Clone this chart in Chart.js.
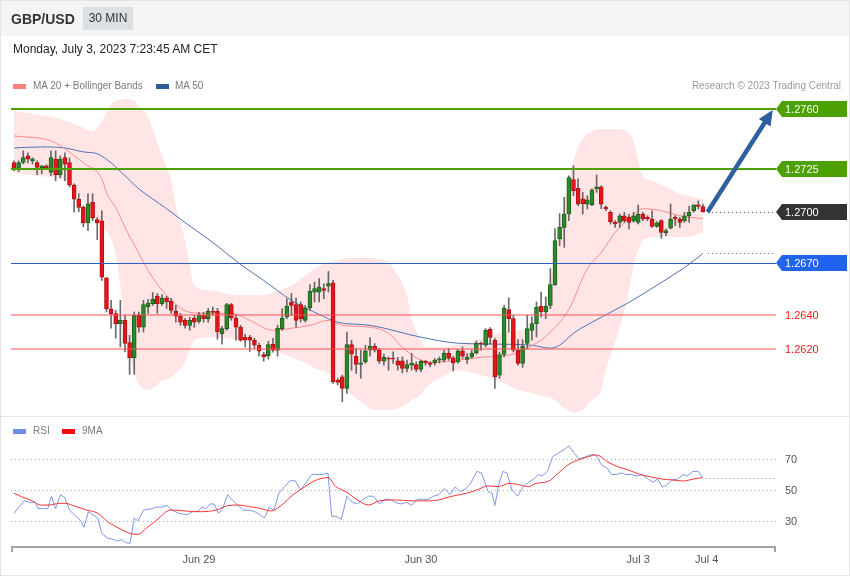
<!DOCTYPE html>
<html><head><meta charset="utf-8">
<script src="https://cdn.jsdelivr.net/npm/chart.js@4.4.1/dist/chart.umd.min.js"></script>
<style>
html,body{margin:0;padding:0;background:#fff;}
body{font-family:"Liberation Sans",Arial,Helvetica,sans-serif;}
#wrap{position:relative;width:850px;height:576px;overflow:hidden;background:#fff;}
.abs{position:absolute;white-space:nowrap;z-index:3;}
.box{position:absolute;box-sizing:border-box;}
#p1{left:0;top:0;width:850px;height:417px;border:1px solid #e4e4e4;z-index:0;}
#p2{left:0;top:416px;width:850px;height:160px;border:1px solid #e4e4e4;z-index:0;}
#hdr{left:1px;top:1px;width:848px;height:35px;background:#f4f4f4;z-index:1;}
#pair{left:11px;top:11px;font-size:14px;line-height:16px;font-weight:bold;color:#333;}
#tf{left:83px;top:7px;width:50px;height:23px;background:#dcdfe4;font-size:12px;color:#333;text-align:center;line-height:23px;}
#date{left:13px;top:42px;font-size:12px;line-height:14px;color:#222;}
.leg{font-size:10px;line-height:12px;color:#7a7a7a;}
.sw{position:absolute;width:13px;height:5px;z-index:3;}
canvas{position:absolute;left:0;z-index:2;}
#main{top:0;}
#rsi{top:416px;}
.lbl{position:absolute;font-size:11px;line-height:16px;color:#fff;z-index:4;white-space:nowrap;}
.ax{position:absolute;font-size:11px;line-height:13px;color:#555;z-index:4;white-space:nowrap;transform:translateX(-50%);}
</style></head>
<body>
<div id="wrap">
  <div id="p1" class="box"></div>
  <div id="p2" class="box"></div>
  <div id="hdr" class="box"></div>
  <div id="pair" class="abs">GBP/USD</div>
  <div id="tf" class="abs">30 MIN</div>
  <div id="date" class="abs">Monday, July 3, 2023 7:23:45 AM CET</div>
  <div class="sw" style="left:13px;top:84px;background:#ff8080;"></div>
  <div class="abs leg" style="left:33px;top:80px;">MA 20 + Bollinger Bands</div>
  <div class="sw" style="left:156px;top:84px;background:#2d5c9b;"></div>
  <div class="abs leg" style="left:175px;top:80px;">MA 50</div>
  <div class="abs leg" style="right:9px;top:80px;color:#9a9a9a;">Research © 2023 Trading Central</div>
  <div class="sw" style="left:13px;top:429px;background:#6f8fe3;"></div>
  <div class="abs leg" style="left:33px;top:425px;">RSI</div>
  <div class="sw" style="left:62px;top:429px;background:#f01010;"></div>
  <div class="abs leg" style="left:82px;top:425px;">9MA</div>
  <canvas id="main" width="850" height="416" style="width:850px;height:416px;"></canvas>
  <canvas id="rsi" width="850" height="160" style="width:850px;height:160px;"></canvas>
</div>
<script>
// ---------- DATA ----------
const opens = [1.27288,1.27253,1.27288,1.27327,1.27298,1.27288,1.27257,1.27269,1.27230,1.27308,
1.27217,1.27317,1.27288,1.27157,1.27075,1.27027,1.26936,1.27056,1.26955,1.26948,
1.26616,1.26436,1.26407,1.26349,1.26368,1.26239,1.26149,1.26397,1.26329,1.26446,
1.26465,1.26510,1.26465,1.26498,1.26479,1.26421,1.26393,1.26368,1.26339,1.26382,
1.26362,1.26397,1.26378,1.26418,1.26421,1.26291,1.26320,1.26460,1.26382,1.26329,
1.26271,1.26270,1.26252,1.26223,1.26169,1.26161,1.26229,1.26194,1.26320,1.26388,
1.26473,1.26460,1.26460,1.26368,1.26440,1.26533,1.26533,1.26553,1.26568,1.26587,
1.26020,1.26039,1.25972,1.26227,1.26159,1.26111,1.26126,1.26194,1.26217,1.26194,
1.26130,1.26144,1.26144,1.26132,1.26132,1.26088,1.26107,1.26111,1.26082,1.26130,
1.26120,1.26120,1.26136,1.26136,1.26178,1.26149,1.26126,1.26190,1.26140,1.26155,
1.26178,1.26233,1.26223,1.26316,1.26252,1.26049,1.26169,1.26431,1.26378,1.26194,
1.26117,1.26233,1.26310,1.26349,1.26450,1.26417,1.26455,1.26576,1.26843,1.26910,
1.26988,1.27188,1.27137,1.27077,1.27046,1.27041,1.27134,1.27147,1.27027,1.26998,
1.26939,1.26939,1.26978,1.26968,1.26949,1.26939,1.26988,1.26968,1.26959,1.26916,
1.26949,1.26878,1.26905,1.26968,1.26959,1.26949,1.26978,1.27007,1.27041,1.27031];
const highs = [1.27298,1.27298,1.27356,1.27344,1.27315,1.27298,1.27269,1.27275,1.27356,1.27356,
1.27327,1.27344,1.27315,1.27164,1.27106,1.27036,1.27106,1.27106,1.26967,1.27007,
1.26618,1.26485,1.26426,1.26485,1.26397,1.26281,1.26417,1.26417,1.26485,1.26490,
1.26531,1.26525,1.26519,1.26508,1.26496,1.26455,1.26409,1.26380,1.26386,1.26397,
1.26415,1.26415,1.26438,1.26446,1.26438,1.26333,1.26467,1.26467,1.26397,1.26339,
1.26287,1.26281,1.26264,1.26235,1.26182,1.26246,1.26264,1.26339,1.26436,1.26494,
1.26525,1.26498,1.26475,1.26455,1.26576,1.26591,1.26611,1.26582,1.26653,1.26601,
1.26030,1.26049,1.26300,1.26252,1.26204,1.26194,1.26223,1.26268,1.26233,1.26206,
1.26171,1.26155,1.26184,1.26152,1.26155,1.26136,1.26175,1.26126,1.26136,1.26136,
1.26126,1.26146,1.26155,1.26194,1.26204,1.26159,1.26198,1.26213,1.26175,1.26194,
1.26248,1.26242,1.26320,1.26326,1.26262,1.26184,1.26455,1.26500,1.26397,1.26256,
1.26256,1.26397,1.26388,1.26475,1.26533,1.26504,1.26670,1.26903,1.26990,1.27085,
1.27211,1.27269,1.27193,1.27114,1.27095,1.27134,1.27215,1.27153,1.27036,1.27007,
1.26949,1.26988,1.26998,1.26988,1.26998,1.27041,1.26998,1.26978,1.27007,1.26944,
1.26955,1.26901,1.27046,1.26978,1.26968,1.26998,1.27032,1.27041,1.27065,1.27046];
const lows = [1.27240,1.27234,1.27280,1.27286,1.27280,1.27217,1.27222,1.27251,1.27211,1.27182,
1.27199,1.27182,1.27147,1.26998,1.27002,1.26914,1.26891,1.26949,1.26839,1.26601,
1.26417,1.26322,1.26264,1.26213,1.26184,1.26053,1.26053,1.26299,1.26300,1.26409,
1.26455,1.26409,1.26455,1.26438,1.26409,1.26358,1.26339,1.26322,1.26310,1.26328,
1.26351,1.26357,1.26357,1.26397,1.26258,1.26229,1.26310,1.26368,1.26252,1.26246,
1.26213,1.26188,1.26204,1.26161,1.26130,1.26142,1.26182,1.26159,1.26310,1.26378,
1.26397,1.26329,1.26358,1.26358,1.26426,1.26475,1.26475,1.26494,1.26533,1.26001,
1.25991,1.25894,1.25942,1.26078,1.26059,1.26031,1.26117,1.26159,1.26184,1.26117,
1.26107,1.26078,1.26117,1.26078,1.26062,1.26068,1.26078,1.26068,1.26068,1.26107,
1.26097,1.26107,1.26119,1.26126,1.26136,1.26074,1.26117,1.26146,1.26117,1.26146,
1.26171,1.26194,1.26213,1.26229,1.25972,1.26030,1.26155,1.26300,1.26184,1.26107,
1.26094,1.26204,1.26252,1.26271,1.26388,1.26378,1.26436,1.26572,1.26804,1.26794,
1.26949,1.27095,1.27036,1.26988,1.27017,1.27036,1.27114,1.27019,1.27007,1.26930,
1.26910,1.26910,1.26939,1.26901,1.26939,1.26930,1.26949,1.26949,1.26910,1.26910,
1.26846,1.26862,1.26901,1.26920,1.26910,1.26939,1.26939,1.26998,1.27017,1.26998];
const closes = [1.27253,1.27288,1.27317,1.27308,1.27309,1.27259,1.27269,1.27257,1.27317,1.27217,
1.27308,1.27279,1.27157,1.27075,1.27027,1.26936,1.27048,1.26963,1.26936,1.26620,
1.26436,1.26407,1.26349,1.26368,1.26233,1.26149,1.26397,1.26329,1.26460,1.26469,
1.26490,1.26465,1.26498,1.26475,1.26426,1.26393,1.26358,1.26339,1.26368,1.26358,
1.26401,1.26378,1.26421,1.26415,1.26300,1.26320,1.26460,1.26382,1.26329,1.26252,
1.26252,1.26252,1.26223,1.26188,1.26157,1.26227,1.26194,1.26322,1.26382,1.26451,
1.26455,1.26368,1.26378,1.26440,1.26537,1.26553,1.26562,1.26543,1.26582,1.26010,
1.26006,1.25972,1.26227,1.26171,1.26111,1.26120,1.26190,1.26217,1.26194,1.26130,
1.26152,1.26142,1.26143,1.26107,1.26088,1.26111,1.26117,1.26082,1.26130,1.26120,
1.26111,1.26136,1.26144,1.26178,1.26146,1.26120,1.26190,1.26159,1.26152,1.26178,
1.26236,1.26229,1.26310,1.26268,1.26039,1.26169,1.26440,1.26378,1.26194,1.26117,
1.26217,1.26320,1.26349,1.26446,1.26417,1.26450,1.26576,1.26833,1.26910,1.26988,
1.27201,1.27124,1.27046,1.27048,1.27070,1.27129,1.27147,1.27046,1.27017,1.26944,
1.26930,1.26978,1.26949,1.26939,1.26978,1.26988,1.26959,1.26959,1.26916,1.26936,
1.26881,1.26891,1.26959,1.26959,1.26939,1.26978,1.26998,1.27041,1.27032,1.27000];

// Bollinger bands (read at candle indices)
const bandIdx = [0,3,7,10,13,15,17,19,21,22,23,24,26,27,29,30,32,34,35,37,38,39,42,46,49,53,56,60,63,65,
68,72,75,78,81,83,85,86,88,89,92,96,101,106,109,113,115,117,119,121,123,125,127,128,131,133,134,135,136,138,
140,142,144,147,149];
const bbUpper = [1.27588,1.27577,1.27559,1.27542,1.27513,1.27490,1.27472,1.27530,1.27629,1.27647,
1.27652,1.27658,1.27652,1.27617,1.27554,1.27484,1.27327,1.27182,1.27036,1.26833,
1.26688,1.26572,1.26543,1.26525,1.26514,1.26514,1.26531,1.26572,1.26630,1.26670,
1.26705,1.26729,1.26734,1.26729,1.26705,1.26630,1.26514,1.26380,1.26252,1.26211,
1.26211,1.26223,1.26264,1.26299,1.26310,1.26339,1.26485,1.26729,1.27066,1.27298,
1.27426,1.27472,1.27484,1.27484,1.27484,1.27461,1.27414,1.27298,1.27211,1.27182,
1.27159,1.27135,1.27106,1.27089,1.27077];
const bbLower = [1.27228,1.27217,1.27205,1.27193,1.27124,1.27066,1.26996,1.26920,1.26845,1.26746,
1.26572,1.26310,1.26066,1.25997,1.25962,1.25973,1.26014,1.26037,1.26060,1.26124,
1.26194,1.26252,1.26270,1.26264,1.26252,1.26235,1.26194,1.26153,1.26119,1.26089,
1.26060,1.25962,1.25892,1.25845,1.25845,1.25857,1.25880,1.25904,1.25938,1.25973,
1.26031,1.26078,1.26049,1.26002,1.25962,1.25938,1.25921,1.25904,1.25857,1.25828,
1.25845,1.25904,1.25962,1.26078,1.26322,1.26543,1.26688,1.26775,1.26833,1.26851,
1.26856,1.26856,1.26851,1.26862,1.26880];

const ma20Idx = [0,8,11,15,19,20,22,25,26,29,33,38,42,47,51,56,60,64,68,71,77,81,84,88,91,96,101,107,111,115,120,124,127,130,133,136,140,144,149];
const ma20 = [1.27443,1.27414,1.27368,1.27286,1.27193,1.27112,1.27025,1.26856,1.26810,1.26659,
1.26514,1.26415,1.26409,1.26409,1.26368,1.26310,1.26322,1.26339,1.26368,1.26339,
1.26328,1.26293,1.26211,1.26136,1.26124,1.26136,1.26153,1.26165,1.26206,1.26275,
1.26432,1.26670,1.26763,1.26880,1.26961,1.27019,1.27007,1.26978,1.26961];

const ma50Idx = [0,6,11,15,18,21,24,27,33,37,43,49,54,60,66,70,77,88,96,106,112,116,118,121,127,133,140,145,149];
const ma50 = [1.27373,1.27379,1.27373,1.27350,1.27339,1.27286,1.27211,1.27135,1.27019,1.26938,
1.26822,1.26694,1.26601,1.26485,1.26403,1.26357,1.26339,1.26270,1.26235,1.26229,
1.26223,1.26206,1.26223,1.26293,1.26386,1.26473,1.26589,1.26676,1.26758];

// key levels
const levelValues = [1.2760,1.2725,1.2700,1.2670,1.2640,1.2620];
const levelLabels = ['1.2760','1.2725','1.2700','1.2670','1.2640','1.2620'];
const arrowFrom = [150.0, 1.2700];
const arrowTo = [164.1, 1.27594];

// RSI panel
const rsiIdx = [0,1.1,2.2,3.4,4.6,5.2,6.3,7.3,8.1,9.0,10.1,11.0,12.0,13.4,14.5,15.1,16.1,17.1,18.1,19.0,
20.2,21.6,22.5,23.3,24.2,25.1,26.0,26.8,28.0,29.8,30.9,31.9,33.1,34.2,35.6,37.4,38.6,39.7,40.6,41.5,
42.4,43.3,44.2,45.0,46.2,47.4,48.5,49.5,50.9,52.1,53.2,54.2,55.2,56.2,57.3,58.5,59.7,60.8,62.0,63.2,
64.4,65.5,66.7,67.9,68.7,69.6,70.8,72.0,73.2,74.3,75.5,76.7,77.8,79.0,80.2,81.4,82.5,83.7,84.9,86.0,
87.2,88.4,89.6,90.7,91.9,93.1,94.3,95.4,96.6,97.8,98.9,100.1,101.1,101.6,102.5,103.4,104.0,104.8,105.7,106.6,
107.7,108.9,110.1,111.3,112.4,113.4,114.2,115.4,116.5,117.7,118.9,120.0,121.2,122.2,123.3,124.5,125.3,126.1,127.1,128.3,
129.2,130.4,131.2,132.4,133.5,134.7,135.9,137.0,138.2,139.2,140.2,141.1,142.3,143.5,144.7,145.6,146.8,148.0,148.9];
const rsi = [35,39,43,42,42,38,38,38,46,38,47,45,37,33,30,26,36,34,32,22,
19,18,17,18,16,15.6,32,30,37,38,39,39,40,37,35,34,36,36,39,38,
41,41,35,37,47,43,40,37,37,36,34,32,39,37,48,52,56,56,50,55,
60,60,60,61,33,33,31,46,42,41,44,46,46,41,44,44,42,41,42,40,
44,44,44,46,47,51,47,52,49,51,55,62,61,57,49,48,40,53,62,61,
50,46,52,55,57,60,59,62,71.5,73.7,76,78.4,73.7,70,71,72.5,73,71.5,66,64,
60,60,61,60,60,59,60,57.5,55,57,52,53,56.5,57,60,59,62,62,58];
const ma9Idx = [0,1.6,4.0,5.7,7.5,9.8,11.0,13.4,15.7,18.1,20.4,22.7,25.1,26.8,28.6,30.9,33.9,36.8,40.3,43.8,
46.2,48.5,50.9,53.2,55.6,57.9,60.3,62.6,64.9,67.9,69.6,72.0,74.3,76.7,79.0,82.5,86.0,89.6,91.9,94.3,
97.8,100.1,102.5,104.8,107.2,109.5,111.3,113.0,115.4,117.7,120.0,122.4,124.2,125.7,126.5,128.3,130.6,132.9,135.3,137.6,
140.0,142.3,144.7,147.0,148.9];
const ma9 = [47.9,45.7,43,40.3,40.3,41.4,41.4,39.3,37.1,35,29.2,25.3,22,21.4,25.3,30.7,37.1,36.5,36,37.1,
39.9,40.3,39.3,38.2,36.5,40.3,46.8,51.5,55.8,58,52.2,48.5,43.5,40.3,43,43.6,43,43,43.6,45.7,
47.9,50,52.6,52.2,54.3,53.2,52.2,54.3,55.4,60.8,66.6,69.8,71.5,72.6,72.2,68.3,65,62.9,60.1,58.6,
57.1,56.5,55.8,57.1,58];
const rsiLevels = [70,50,30];
const dateTickIdx = [40,88,135,149.8];
const dateTickLabels = ['Jun 29','Jun 30','Jul 3','Jul 4'];

// ---------- CHARTS ----------
const X_MIN = -0.65, X_MAX = 164.8;
const idx = opens.map((_, i) => i);
const isUp = i => closes[i] >= opens[i];
const pts = (xs, ys) => xs.map((x, k) => ({x, y: ys[k]}));

function hline(ctx, x0, x1, y, color, w, dash){
  ctx.save();
  ctx.strokeStyle = color; ctx.lineWidth = w;
  ctx.setLineDash(dash || []);
  const yy = (w % 2 === 1) ? Math.round(y) + 0.5 : Math.round(y);
  ctx.beginPath(); ctx.moveTo(x0, yy); ctx.lineTo(x1, yy); ctx.stroke();
  ctx.restore();
}

const mainDecor = {
  id: 'mainDecor',
  afterDatasetsDraw(chart){
    const ctx = chart.ctx, xs = chart.scales.x, ys = chart.scales.y;
    const L = xs.getPixelForValue(X_MIN), R = xs.getPixelForValue(X_MAX);
    const lastX = xs.getPixelForValue(idx.length - 1) + 5;
    const py = v => ys.getPixelForValue(v);
    hline(ctx, L, R, py(levelValues[4]), 'rgba(255,80,80,0.5)', 2);
    hline(ctx, L, R, py(levelValues[5]), 'rgba(255,80,80,0.5)', 2);
    hline(ctx, L, R, py(levelValues[3]), '#2f5bc8', 1);
    hline(ctx, L, R, py(levelValues[0]), '#4ca000', 2);
    hline(ctx, L, R, py(levelValues[1]), '#4ca000', 2);
    hline(ctx, lastX, R, py(levelValues[2]), '#555', 1, [1,3]);
    hline(ctx, lastX, R, py(ma50[ma50.length-1]), '#666', 1, [1,3]);
    // arrow
    const ax0 = xs.getPixelForValue(arrowFrom[0]), ay0 = py(arrowFrom[1]);
    const ax1 = xs.getPixelForValue(arrowTo[0]), ay1 = py(arrowTo[1]);
    const ang = Math.atan2(ay1 - ay0, ax1 - ax0);
    const hl = 15, hw = 7;
    const bx = ax1 - hl * Math.cos(ang), by = ay1 - hl * Math.sin(ang);
    ctx.save();
    ctx.strokeStyle = '#2e5f9e'; ctx.fillStyle = '#2e5f9e'; ctx.lineWidth = 4.5;
    ctx.beginPath(); ctx.moveTo(ax0, ay0); ctx.lineTo(bx + 2*Math.cos(ang), by + 2*Math.sin(ang)); ctx.stroke();
    ctx.beginPath(); ctx.moveTo(ax1, ay1);
    ctx.lineTo(bx + hw * Math.sin(ang), by - hw * Math.cos(ang));
    ctx.lineTo(bx - hw * Math.sin(ang), by + hw * Math.cos(ang));
    ctx.closePath(); ctx.fill();
    ctx.restore();
    // label boxes
    const boxColors = {0:'#4ca000',1:'#4ca000',2:'#333333',3:'#1f63ee'};
    Object.keys(boxColors).forEach(k => {
      const yc = Math.round(py(levelValues[k]));
      ctx.save();
      ctx.fillStyle = boxColors[k];
      ctx.beginPath();
      ctx.moveTo(R, yc); ctx.lineTo(R + 6, yc - 8); ctx.lineTo(R + 71, yc - 8);
      ctx.lineTo(R + 71, yc + 8); ctx.lineTo(R + 6, yc + 8); ctx.closePath(); ctx.fill();
      ctx.restore();
    });
  }
};

const mainChart = new Chart(document.getElementById('main'), {
  type: 'bar',
  data: {
    datasets: [
      {type:'line', data: pts(bandIdx, bbUpper), borderWidth:0, borderColor:'rgba(0,0,0,0)',
       backgroundColor:'rgba(255,0,0,0.1)', fill:'+1', pointRadius:0, cubicInterpolationMode:'monotone', order:10},
      {type:'line', data: pts(bandIdx, bbLower), borderWidth:0, borderColor:'rgba(0,0,0,0)',
       fill:false, pointRadius:0, cubicInterpolationMode:'monotone', order:9},
      {type:'line', data: pts(ma20Idx, ma20), borderColor:'#ff8a8a', borderWidth:1, pointRadius:0,
       cubicInterpolationMode:'monotone', fill:false, order:5},
      {type:'line', data: pts(ma50Idx, ma50), borderColor:'#4f72b3', borderWidth:1, pointRadius:0,
       cubicInterpolationMode:'monotone', fill:false, order:5},
      {type:'bar', data: idx.map(i => ({x:i, y:[lows[i], highs[i]]})), backgroundColor:'rgba(70,70,70,0.8)',
       barThickness:1, grouped:false, order:3},
      {type:'bar', data: idx.map(i => ({x:i, y:[opens[i], closes[i]]})),
       backgroundColor: c => isUp(c.dataIndex) ? '#2b8a2b' : '#e8141b',
       borderColor: c => isUp(c.dataIndex) ? '#1b601b' : '#b20f14',
       borderWidth:1, borderSkipped:false, barThickness:4, minBarLength:1, grouped:false, order:1}
    ]
  },
  options: {
    responsive:false, animation:false, devicePixelRatio:1, events:[],
    layout:{padding:{left:11, right:74, top:90, bottom:0}},
    plugins:{legend:{display:false}, tooltip:{enabled:false}},
    scales:{
      x:{type:'linear', min:X_MIN, max:X_MAX, display:false, offset:false},
      y:{type:'linear', min:1.2581065, max:1.2771074, display:false}
    }
  },
  plugins:[mainDecor]
});

const rsiDecor = {
  id:'rsiDecor',
  beforeDatasetsDraw(chart){
    const ctx = chart.ctx, xs = chart.scales.x, ys = chart.scales.y;
    const L = xs.getPixelForValue(X_MIN), R = xs.getPixelForValue(X_MAX);
    rsiLevels.forEach(v => hline(ctx, L, R, ys.getPixelForValue(v), '#b0b0b0', 1, [1,3]));
  },
  afterDatasetsDraw(chart){
    const ctx = chart.ctx, xs = chart.scales.x, ys = chart.scales.y;
    const L = xs.getPixelForValue(X_MIN), R = xs.getPixelForValue(X_MAX);
    const lx = xs.getPixelForValue(rsiIdx[rsiIdx.length-1]) + 3;
    hline(ctx, lx, R, ys.getPixelForValue(rsi[rsi.length-1]), '#6f8fe3', 1, [1,3]);
    const b = chart.chartArea.bottom;
    ctx.save();
    ctx.strokeStyle = '#a3a3a3'; ctx.lineWidth = 2;
    ctx.beginPath(); ctx.moveTo(L, b + 1); ctx.lineTo(R, b + 1); ctx.stroke();
    ctx.beginPath(); ctx.moveTo(L + 1, b); ctx.lineTo(L + 1, b + 6); ctx.moveTo(R - 1, b); ctx.lineTo(R - 1, b + 6); ctx.stroke();
    ctx.restore();
  }
};

const rsiChart = new Chart(document.getElementById('rsi'), {
  type:'line',
  data:{datasets:[
    {data: pts(ma9Idx, ma9), borderColor:'#f23434', borderWidth:1, pointRadius:0, cubicInterpolationMode:'monotone', fill:false},
    {data: pts(rsiIdx, rsi), borderColor:'#7d97ea', borderWidth:1, pointRadius:0, tension:0, fill:false}
  ]},
  options:{
    responsive:false, animation:false, devicePixelRatio:1, events:[],
    layout:{padding:{left:11, right:74, top:24, bottom:30}},
    plugins:{legend:{display:false}, tooltip:{enabled:false}},
    scales:{
      x:{type:'linear', min:X_MIN, max:X_MAX, display:false},
      y:{type:'linear', min:13.871, max:82.258, display:false}
    }
  },
  plugins:[rsiDecor]
});

// ---------- TEXT LABELS ----------
const wrap = document.getElementById('wrap');
const ysM = mainChart.scales.y;
const labelColors = ['#fff','#fff','#fff','#fff','#f01a1a','#f01a1a'];
levelValues.forEach((v, k) => {
  const d = document.createElement('div');
  d.className = 'lbl';
  d.textContent = levelLabels[k];
  d.style.left = '785px';
  d.style.top = (Math.round(ysM.getPixelForValue(v)) - 8) + 'px';
  d.style.color = labelColors[k];
  wrap.appendChild(d);
});
const ysR = rsiChart.scales.y, xsR = rsiChart.scales.x;
rsiLevels.forEach(v => {
  const d = document.createElement('div');
  d.className = 'lbl';
  d.textContent = String(v);
  d.style.left = '785px';
  d.style.color = '#555';
  d.style.top = (416 + Math.round(ysR.getPixelForValue(v)) - 8) + 'px';
  wrap.appendChild(d);
});
dateTickIdx.forEach((t, k) => {
  const d = document.createElement('div');
  d.className = 'ax';
  d.textContent = dateTickLabels[k];
  d.style.left = xsR.getPixelForValue(t) + 'px';
  d.style.top = '553px';
  wrap.appendChild(d);
});
</script>
</body></html>
